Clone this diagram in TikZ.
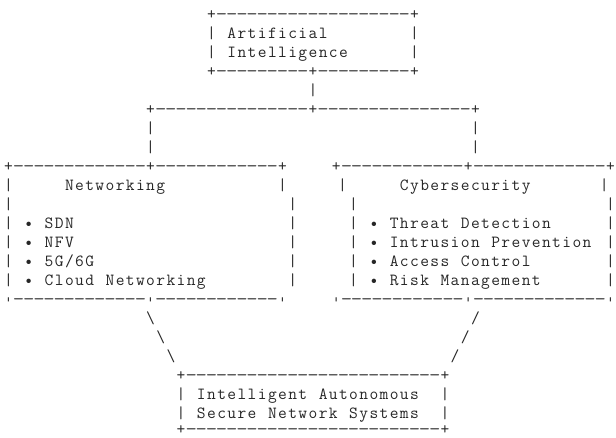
\documentclass[tikz,border=0pt]{standalone}
\usepackage{graphicx}
\newlength\cw \setlength\cw{10.15pt}
\newcommand\blank{}
\def\monoloop#1{\ifx#1\relax\else\makebox[\cw][c]{#1}\expandafter\monoloop\fi}
\newcommand\mono[1]{\monoloop#1\relax}
\newcommand\dsh[1]{\foreach\dshi in {1,...,#1}{\makebox[\cw][c]{\scalebox{1.3}[1]{-}}}}
\newcommand\tck{\makebox[\cw][c]{\raisebox{0.17em}{\scalebox{1}[0.32]{|}}}}
\begin{document}
\begin{tikzpicture}[x=\cw, y=-19pt,
  t/.style={anchor=base west, inner sep=0pt, outer sep=0pt,
    font=\ttfamily\fontsize{17}{19}\selectfont, text=black!85}]
\path[use as bounding box] (0pt,0pt) rectangle (616pt,-437pt);
\begin{scope}[xshift=3.425pt]
% Artificial Intelligence box
\node[t] (l1) at (20,1) {\mono{+}\dsh{19}\mono{+}};
\node[t] (l2a) at (20,2) {\mono{|}};
\node[t] (l2b) at (22,2) {\mono{Artificial}};
\node[t] (l2c) at (40,2) {\mono{|}};
\node[t] (l3a) at (20,3) {\mono{|}};
\node[t] (l3b) at (22,3) {\mono{Intelligence}};
\node[t] (l3c) at (40,3) {\mono{|}};
\node[t] (l4) at (20,4) {\mono{+}\dsh{9}\mono{+}\dsh{9}\mono{+}};
\node[t] (l5) at (30,5) {\mono{|}};
\node[t] (l6) at (14,6) {\mono{+}\dsh{15}\mono{+}\dsh{15}\mono{+}};
\node[t] (l7a) at (14,7) {\mono{|}};
\node[t] (l7b) at (46,7) {\mono{|}};
\node[t] (l8a) at (14,8) {\mono{|}};
\node[t] (l8b) at (46,8) {\mono{|}};
% Networking / Cybersecurity tops
\node[t] (nwtop) at (0,9) {\mono{+}\dsh{13}\mono{+}\dsh{12}\mono{+}};
\node[t] (cstop) at (32.3,9) {\mono{+}\dsh{12}\mono{+}\dsh{13}\mono{+}};
% headers
\node[t] (l10a) at (0,10) {\mono{|}};
\node[t] (nwtitle) at (6,10) {\mono{Networking}};
\node[t] (l10b) at (27,10) {\mono{|}};
\node[t] (l10c) at (32.9,10) {\mono{|}};
\node[t] (cstitle) at (39,10) {\mono{Cybersecurity}};
\node[t] (l10d) at (58.7,10) {\mono{|}};
% empty row
\node[t] (l11a) at (0,11) {\mono{|}};
\node[t] (l11b) at (28,11) {\mono{|}};
\node[t] (l11c) at (34,11) {\mono{|}};
\node[t] (l11d) at (59.3,11) {\mono{|}};
% bullet rows
\node[t] (l12a) at (0,12) {\mono{|}};
\node[t] (sdn) at (2,12) {\mono{•\blank SDN}};
\node[t] (l12b) at (28,12) {\mono{|}};
\node[t] (l12c) at (34,12) {\mono{|}};
\node[t] (threat) at (36,12) {\mono{•\blank Threat\blank Detection}};
\node[t] (l12d) at (59.3,12) {\mono{|}};
\node[t] (l13a) at (0,13) {\mono{|}};
\node[t] (nfv) at (2,13) {\mono{•\blank NFV}};
\node[t] (l13b) at (28,13) {\mono{|}};
\node[t] (l13c) at (34,13) {\mono{|}};
\node[t] (intrusion) at (36,13) {\mono{•\blank Intrusion\blank Prevention}};
\node[t] (l13d) at (59.3,13) {\mono{|}};
\node[t] (l14a) at (0,14) {\mono{|}};
\node[t] (fiveg) at (2,14) {\mono{•\blank 5G/6G}};
\node[t] (l14b) at (28,14) {\mono{|}};
\node[t] (l14c) at (34,14) {\mono{|}};
\node[t] (access) at (36,14) {\mono{•\blank Access\blank Control}};
\node[t] (l14d) at (59.3,14) {\mono{|}};
\node[t] (l15a) at (0,15) {\mono{|}};
\node[t] (cloud) at (2,15) {\mono{•\blank Cloud\blank Networking}};
\node[t] (l15b) at (28,15) {\mono{|}};
\node[t] (l15c) at (34,15) {\mono{|}};
\node[t] (risk) at (36,15) {\mono{•\blank Risk\blank Management}};
\node[t] (l15d) at (59.3,15) {\mono{|}};
% bottoms
\node[t] (nwbot) at (0,16) {\tck\dsh{13}\tck\dsh{12}\tck};
\node[t] (csbot) at (32.3,16) {\tck\dsh{12}\tck\dsh{13}\tck};
% slanted connectors
\node[t] (bs1) at (14,17) {\mono{\textbackslash}};
\node[t] (fs1) at (46,17) {\mono{/}};
\node[t] (bs2) at (15,18) {\mono{\textbackslash}};
\node[t] (fs2) at (45,18) {\mono{/}};
\node[t] (bs3) at (16,19) {\mono{\textbackslash}};
\node[t] (fs3) at (44,19) {\mono{/}};
% bottom box
\node[t] (l20) at (17,20) {\mono{+}\dsh{25}\mono{+}};
\node[t] (l21a) at (17,21) {\mono{|}};
\node[t] (l21b) at (19,21) {\mono{Intelligent\blank Autonomous}};
\node[t] (l21c) at (43,21) {\mono{|}};
\node[t] (l22a) at (17,22) {\mono{|}};
\node[t] (l22b) at (19,22) {\mono{Secure\blank Network\blank Systems}};
\node[t] (l22c) at (43,22) {\mono{|}};
\node[t] (l23) at (17,22.85) {\mono{+}\dsh{25}\mono{+}};
\end{scope}
\end{tikzpicture}
\end{document}
